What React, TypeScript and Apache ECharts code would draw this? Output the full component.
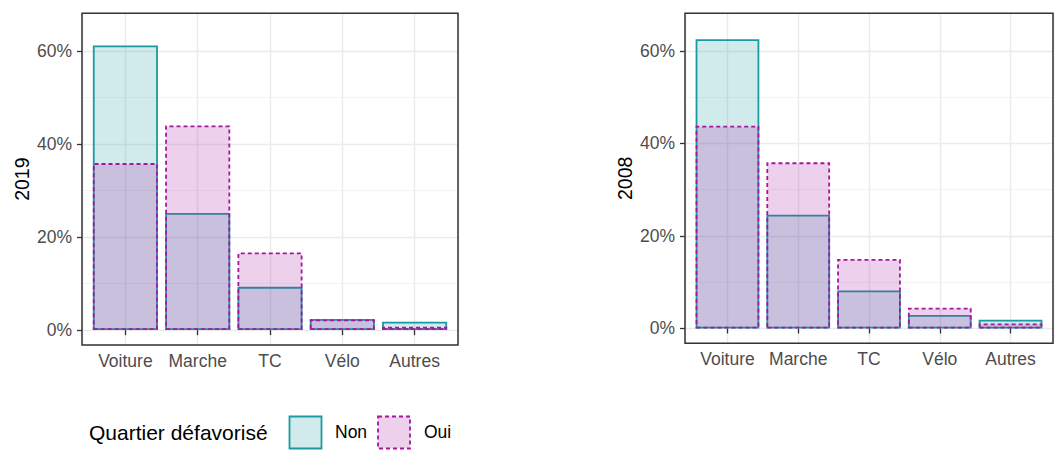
import React, { useEffect, useRef } from "react";
import * as echarts from "echarts";

const categories = ["Voiture", "Marche", "TC", "Vélo", "Autres"];
const panelNames = ["2019", "2008"];
const groups = ["Non", "Oui"];
const non2019 = [61.2, 25.2, 9.3, 2.4, 1.8];
const oui2019 = [35.9, 44.0, 16.7, 2.3, 0.7];
const non2008 = [62.5, 24.6, 8.2, 2.9, 1.9];
const oui2008 = [43.8, 35.9, 15.0, 4.5, 1.1];
const yTicks = [0, 20, 40, 60];
const legendTitle = "Quartier défavorisé";

const FONT = "'Liberation Sans', Arial, sans-serif";
const TEAL = "#1b9aa0";
const MAG = "#a6169f";
const TEAL_FILL = "rgba(27,154,160,0.2)";
const MAG_FILL = "rgba(166,22,160,0.2)";
const YMIN = -3.2;
const YMAX = 68.1;

const panels = [
  { name: panelNames[0], non: non2019, oui: oui2019, left: 82, top: 13.3, width: 376, height: 331.7 },
  { name: panelNames[1], non: non2008, oui: oui2008, left: 685, top: 13.3, width: 368, height: 330 },
];

function buildOption() {
  const grids: any[] = [];
  const xAxes: any[] = [];
  const yAxes: any[] = [];
  const series: any[] = [];
  const graphics: any[] = [];

  panels.forEach((p) => {
    const unit = p.width / 5.2;
    const inset = unit * 0.1;
    const gOuter = grids.length;
    grids.push({ left: p.left, top: p.top, width: p.width, height: p.height, show: false, containLabel: false });
    const gInner = grids.length;
    grids.push({ left: p.left + inset, top: p.top, width: p.width - 2 * inset, height: p.height, show: false, containLabel: false });

    xAxes.push({
      type: "value", gridIndex: gOuter, min: -0.6, max: 4.6, splitNumber: 5,
      axisLine: { show: false }, axisTick: { show: false }, axisLabel: { show: false },
      splitLine: { show: true, lineStyle: { color: "#ebebeb", width: 1.4 } },
    });
    const xInner = xAxes.length;
    xAxes.push({
      type: "category", gridIndex: gInner, data: categories, boundaryGap: true,
      axisLine: { show: false },
      axisTick: { show: true, interval: 0, alignWithLabel: true, length: 5, lineStyle: { color: "#333333", width: 1.3 } },
      axisLabel: { interval: 0, color: "#4d4d4d", fontSize: 17.5, fontFamily: FONT, margin: 7 },
      splitLine: { show: false },
    });

    yAxes.push({
      type: "value", gridIndex: gOuter, min: YMIN, max: YMAX, splitNumber: 7, position: "right",
      axisLine: { show: false }, axisTick: { show: false }, axisLabel: { show: false },
      splitLine: { show: true, lineStyle: { color: "#f0f0f0", width: 0.8 } },
    });
    yAxes.push({
      type: "value", gridIndex: gOuter, min: YMIN, max: YMAX, splitNumber: 3, position: "left",
      name: p.name, nameLocation: "middle", nameRotate: 90, nameGap: 50,
      nameTextStyle: { color: "#000000", fontSize: 19.5, fontFamily: FONT },
      axisLine: { show: false },
      axisTick: { show: true, length: 5, customValues: yTicks, lineStyle: { color: "#333333", width: 1.3 } },
      axisLabel: {
        show: true, customValues: yTicks, color: "#4d4d4d", fontSize: 17.5, fontFamily: FONT, margin: 10,
        formatter: (v: number) => `${v}%`,
      },
      splitLine: { show: true, lineStyle: { color: "#ebebeb", width: 1.4 } },
    });
    const yInner = yAxes.length;
    yAxes.push({ type: "value", gridIndex: gInner, min: YMIN, max: YMAX, show: false });

    series.push({
      type: "bar", name: groups[0], xAxisIndex: xInner, yAxisIndex: yInner, data: p.non,
      barGap: "-100%", barCategoryGap: "10%", z: 3,
      itemStyle: { color: TEAL_FILL, borderColor: TEAL, borderWidth: 1.8 },
    });
    series.push({
      type: "bar", name: groups[1], xAxisIndex: xInner, yAxisIndex: yInner, data: p.oui,
      barGap: "-100%", barCategoryGap: "10%", z: 4,
      itemStyle: { color: MAG_FILL, borderColor: MAG, borderWidth: 1.8, borderType: [4, 3] },
    });

    graphics.push({
      type: "rect", z: 100, silent: true,
      shape: { x: p.left, y: p.top, width: p.width, height: p.height },
      style: { fill: "none", stroke: "#333333", lineWidth: 1.5 },
    });
  });

  graphics.push({
    type: "text", left: 89, top: 422, z: 100,
    style: { text: legendTitle, fill: "#000000", fontSize: 21, fontFamily: FONT },
  });
  graphics.push({
    type: "rect", z: 100, shape: { x: 289.5, y: 416.5, width: 32, height: 32 },
    style: { fill: TEAL_FILL, stroke: TEAL, lineWidth: 1.8 },
  });
  graphics.push({
    type: "text", left: 335, top: 423, z: 100,
    style: { text: groups[0], fill: "#000000", fontSize: 17.5, fontFamily: FONT },
  });
  graphics.push({
    type: "rect", z: 100, shape: { x: 378, y: 416.5, width: 32, height: 32 },
    style: { fill: MAG_FILL, stroke: MAG, lineWidth: 1.8, lineDash: [4, 3] },
  });
  graphics.push({
    type: "text", left: 424, top: 423, z: 100,
    style: { text: groups[1], fill: "#000000", fontSize: 17.5, fontFamily: FONT },
  });

  return {
    animation: false,
    backgroundColor: "#ffffff",
    textStyle: { fontFamily: FONT },
    grid: grids,
    xAxis: xAxes,
    yAxis: yAxes,
    series,
    graphic: graphics,
  };
}

export default function App() {
  const ref = useRef<HTMLDivElement>(null);
  useEffect(() => {
    document.body.style.margin = "0";
    if (!ref.current) return;
    const chart = echarts.init(ref.current, undefined, { renderer: "svg" });
    chart.setOption(buildOption() as any);
    return () => chart.dispose();
  }, []);
  return <div ref={ref} style={{ width: 1057, height: 450 }} />;
}
